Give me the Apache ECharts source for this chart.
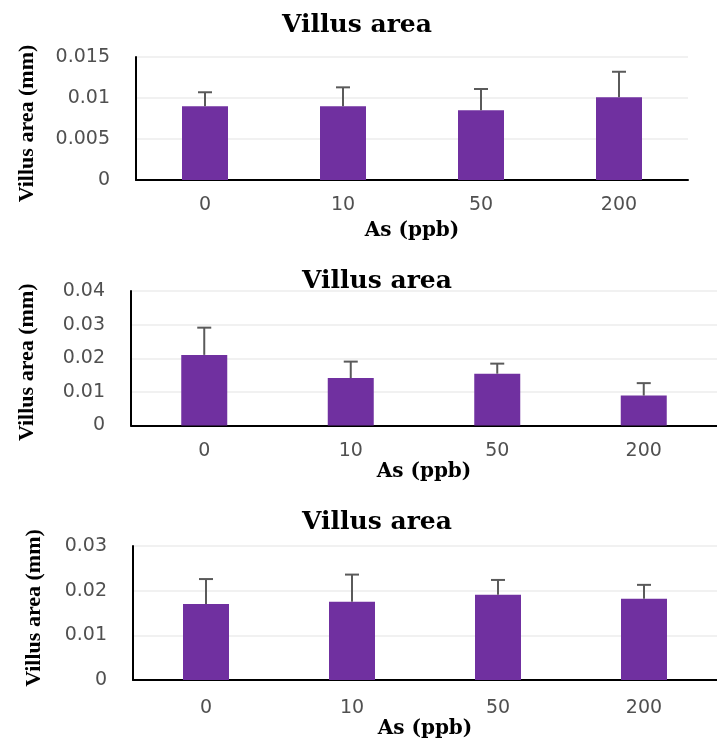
<!DOCTYPE html>
<html>
<head>
<meta charset="utf-8">
<title>Villus area</title>
<script src="https://cdn.jsdelivr.net/npm/echarts@6/dist/echarts.min.js"></script>
<style>
  html, body { margin: 0; padding: 0; background: #ffffff; }
  #chart { width: 717px; height: 742px; }
</style>
</head>
<body>
<div id="chart"></div>
<script>
// Arsenic doses (ppb) on the x axis
const doses = ['0', '10', '50', '200'];

// Panel 1: mean villus area and upper error (mm)
const meanA = [0.0090, 0.0090, 0.0085, 0.0101];
const errA  = [0.0017, 0.0023, 0.0026, 0.0031];

// Panel 2
const meanB = [0.0210, 0.0141, 0.0154, 0.0089];
const errB  = [0.0081, 0.0049, 0.0030, 0.0037];

// Panel 3
const meanC = [0.0170, 0.0175, 0.0191, 0.0182];
const errC  = [0.0056, 0.0061, 0.0033, 0.0031];

// y-axis ranges: [max, interval]
const yMaxA = 0.015, yStepA = 0.005;
const yMaxB = 0.04,  yStepB = 0.01;
const yMaxC = 0.03,  yStepC = 0.01;

const titleText = 'Villus area';
const xName = 'As (ppb)';
const yName = 'Villus area (mm)';

const BAR_COLOR = '#7030A0';
const TICK_COLOR = '#505050';
const GRID_COLOR = '#ececec';

const chart = echarts.init(document.getElementById('chart'));

function makeTitle(top, centerX) {
  return {
    text: titleText,
    top: top,
    left: centerX,
    textAlign: 'center',
    textStyle: {
      fontFamily: 'DejaVu Serif',
      fontWeight: 'bold',
      fontSize: 25,
      color: '#000000'
    }
  };
}

function makeX(gridIndex, labelMargin, nameGap) {
  return {
    type: 'category',
    gridIndex: gridIndex,
    data: doses,
    boundaryGap: true,
    axisTick: { show: false },
    axisLine: { lineStyle: { color: '#000000', width: 2 } },
    axisLabel: {
      margin: labelMargin,
      fontFamily: 'DejaVu Sans',
      fontSize: 19,
      color: TICK_COLOR
    },
    name: xName,
    nameLocation: 'middle',
    nameGap: nameGap,
    nameTextStyle: {
      fontFamily: 'DejaVu Serif',
      fontWeight: 'bold',
      fontSize: 20,
      color: '#000000',
      verticalAlign: 'top'
    }
  };
}

function makeY(gridIndex, max, step, nameGap, shift) {
  return {
    type: 'value',
    gridIndex: gridIndex,
    min: 0,
    max: max,
    interval: step,
    axisLine: { show: true, lineStyle: { color: '#000000', width: 2 } },
    axisTick: { show: false },
    splitLine: { lineStyle: { color: GRID_COLOR, width: 1.5 } },
    axisLabel: {
      margin: 26,
      fontFamily: 'DejaVu Sans',
      fontSize: 19,
      color: TICK_COLOR,
      formatter: function (v) { return String(parseFloat(v.toFixed(4))); }
    },
    name: yName,
    nameLocation: 'middle',
    nameGap: nameGap,
    nameRotate: 90,
    nameTextStyle: {
      fontFamily: 'Liberation Serif',
      fontWeight: 'bold',
      fontSize: 22,
      color: '#000000',
      padding: shift >= 0 ? [0, shift * 2, 0, 0] : [0, 0, 0, -shift * 2]
    }
  };
}

function barSeries(idx, values) {
  return {
    type: 'bar',
    xAxisIndex: idx,
    yAxisIndex: idx,
    data: values,
    barWidth: 46,
    itemStyle: { color: BAR_COLOR },
    silent: true
  };
}

// One-sided (upper) error bars with a short cap
function errorSeries(idx, means, errs) {
  return {
    type: 'custom',
    xAxisIndex: idx,
    yAxisIndex: idx,
    silent: true,
    z: 5,
    data: means.map(function (m, i) { return [i, m, m + errs[i]]; }),
    renderItem: function (params, api) {
      const base = api.coord([api.value(0), api.value(1)]);
      const top = api.coord([api.value(0), api.value(2)]);
      const half = 7;
      const style = { stroke: '#5a5a5a', lineWidth: 2, fill: null };
      return {
        type: 'group',
        children: [
          { type: 'line', shape: { x1: base[0], y1: base[1], x2: top[0], y2: top[1] }, style: style },
          { type: 'line', shape: { x1: top[0] - half, y1: top[1], x2: top[0] + half, y2: top[1] }, style: style }
        ]
      };
    }
  };
}

const option = {
  backgroundColor: '#ffffff',
  animation: false,
  title: [
    makeTitle(8, 352),
    makeTitle(264, 372),
    makeTitle(505, 372)
  ],
  grid: [
    { left: 136, top: 57,  width: 552, height: 123 },
    { left: 131, top: 291, width: 596, height: 134.5 },
    { left: 133, top: 546, width: 598, height: 134 }
  ],
  xAxis: [
    makeX(0, 16, 41),
    makeX(1, 16, 32),
    makeX(2, 19, 34)
  ],
  yAxis: [
    makeY(0, yMaxA, yStepA, 98, 5),
    makeY(1, yMaxB, yStepB, 93, 4),
    makeY(2, yMaxC, yStepC, 88, -5)
  ],
  series: [
    barSeries(0, meanA), errorSeries(0, meanA, errA),
    barSeries(1, meanB), errorSeries(1, meanB, errB),
    barSeries(2, meanC), errorSeries(2, meanC, errC)
  ]
};

chart.setOption(option);
</script>
</body>
</html>
